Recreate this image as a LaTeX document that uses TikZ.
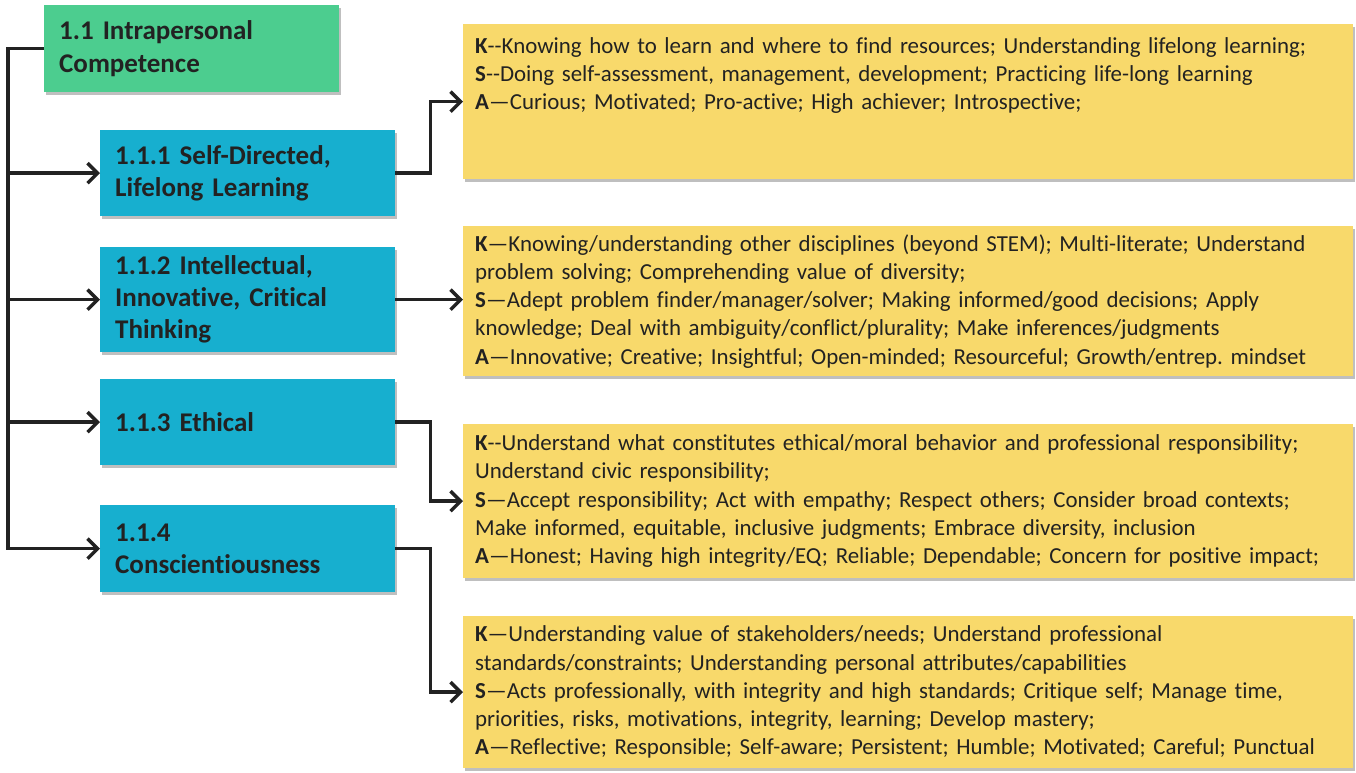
\documentclass[tikz,border=0pt]{standalone}
\usepackage{fontspec}
\setmainfont{Carlito}[Ligatures={TeX,NoCommon}]
\usepackage{tikz}
\usetikzlibrary{arrows.meta,shadows}

\definecolor{topgreen}{RGB}{76,205,143}
\definecolor{subblue}{RGB}{23,175,207}
\definecolor{ksayellow}{RGB}{248,217,107}
\definecolor{inkgray}{RGB}{34,34,34}

\tikzset{
    boxbase/.style={rectangle, anchor=north west, text=inkgray, align=left,
        inner ysep=0pt,
        drop shadow={shadow xshift=1.5pt, shadow yshift=-2.5pt, opacity=0.25, fill=black}},
    topbox/.style={boxbase, fill=topgreen, text width=265pt, inner xsep=15pt,
        font=\fontsize{27}{33}\selectfont\bfseries},
    subbox/.style={boxbase, fill=subblue, text width=265pt, inner xsep=15pt,
        font=\fontsize{27}{32}\selectfont\bfseries},
    ksabox/.style={boxbase, fill=ksayellow, text width=866pt, inner xsep=12pt,
        font=\fontsize{22.9}{28.3}\selectfont},
    conn/.style={line width=3.5pt, draw=inkgray},
    >={Straight Barb[length=10pt,width=20pt,line width=3.5pt]}
}

\begin{document}
\begin{tikzpicture}[x=1pt,y=-1pt]
    % frame
    \useasboundingbox (0,0) rectangle (1356,772);

    % competence boxes
    \node[topbox, minimum height=87pt] (intra) at (44,5) {1.1 Intrapersonal\\Competence};
    \node[subbox, minimum height=86pt] (selfdir) at (100,130) {1.1.1 Self-Directed,\\Lifelong Learning};
    \node[subbox, minimum height=105pt] (intell) at (100,247) {1.1.2 Intellectual,\\Innovative, Critical\\Thinking};
    \node[subbox, minimum height=86pt] (ethic) at (100,379) {1.1.3 Ethical};
    \node[subbox, minimum height=87pt] (consc) at (100,505) {1.1.4\\Conscientiousness};

    % K/S/A boxes
    \node[ksabox, minimum height=155pt] (ksaself) at (463,24) {%
        \textbf{K}-{}-Knowing how to learn and where to find resources; Understanding lifelong learning;\\
        \textbf{S}-{}-Doing self-assessment, management, development; Practicing life-long learning\\
        \textbf{A}---Curious; Motivated; Pro-active; High achiever; Introspective;\\
        \mbox{}\\ \mbox{}};
    \node[ksabox, minimum height=150pt] (ksaintell) at (463,226) {%
        \textbf{K}---Knowing/understanding other disciplines (beyond STEM); Multi-literate; Understand\\
        problem solving; Comprehending value of diversity;\\
        \textbf{S}---Adept problem finder/manager/solver; Making informed/good decisions; Apply\\
        knowledge; Deal with ambiguity/conflict/plurality; Make inferences/judgments\\
        \textbf{A}---Innovative; Creative; Insightful; Open-minded; Resourceful; Growth/entrep.\ mindset};
    \node[ksabox, minimum height=154pt] (ksaethic) at (463,424) {%
        \textbf{K}-{}-Understand what constitutes ethical/moral behavior and professional responsibility;\\
        Understand civic responsibility;\\
        \textbf{S}---Accept responsibility; Act with empathy; Respect others; Consider broad contexts;\\
        Make informed, equitable, inclusive judgments; Embrace diversity, inclusion\\
        \textbf{A}---Honest; Having high integrity/EQ; Reliable; Dependable; Concern for positive impact;};
    \node[ksabox, minimum height=152pt] (ksaconsc) at (463,616) {%
        \textbf{K}---Understanding value of stakeholders/needs; Understand professional\\
        standards/constraints; Understanding personal attributes/capabilities\\
        \textbf{S}---Acts professionally, with integrity and high standards; Critique self; Manage time,\\
        priorities, risks, motivations, integrity, learning; Develop mastery;\\
        \textbf{A}---Reflective; Responsible; Self-aware; Persistent; Humble; Motivated; Careful; Punctual};

    % tree lines
    \draw[conn,->] (intra.west) -- ++(-36,0) coordinate (bus) |- (consc.west);
    \foreach \n in {selfdir,intell,ethic}
        \draw[conn,->] (bus |- \n.west) -- (\n.west);

    % to K/S/A
    \draw[conn,->] (selfdir.east) -- ++(35,0) |- (ksaself.west);
    \draw[conn,->] (intell.east) -- (intell.east -| ksaintell.west);
    \draw[conn,->] (ethic.east) -- ++(35,0) |- (ksaethic.west);
    \draw[conn,->] (consc.east) -- ++(35,0) |- (ksaconsc.west);
\end{tikzpicture}
\end{document}
